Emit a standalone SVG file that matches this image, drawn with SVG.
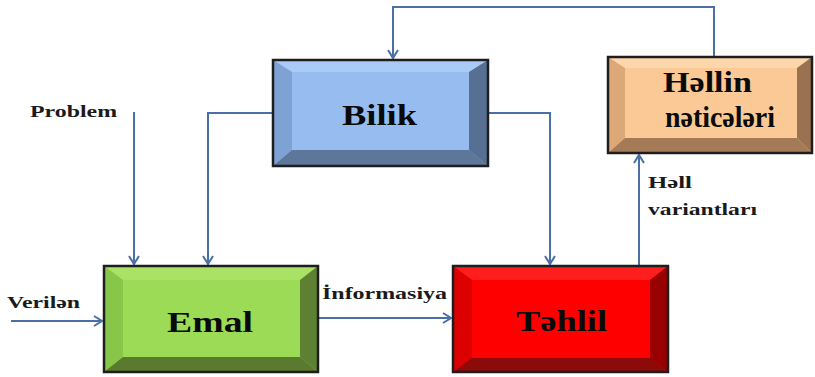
<svg xmlns="http://www.w3.org/2000/svg" width="815" height="377" viewBox="0 0 815 377">
  <defs>
    <style>
      .wire { fill: none; stroke: #4A6FA5; stroke-width: 2; }
      .edge { fill: none; stroke: #1E1E1E; stroke-width: 2.5; }
      .lbl { font-family: "Liberation Serif", "DejaVu Serif", serif; font-weight: bold; fill: #1A1A1A; }
      .small { font-size: 16px; }
      .big { font-size: 30px; fill: #0A0A0A; }
    </style>
    <marker id="arr" markerUnits="userSpaceOnUse" markerWidth="14" markerHeight="14" viewBox="0 0 14 14" refX="12" refY="7" orient="auto">
      <path d="M4,2 L12,7 L4,12" fill="none" stroke="#4A6FA5" stroke-width="2"/>
    </marker>
  </defs>

  <!-- connectors -->
  <g id="connectors">
    <polyline class="wire" points="714,57 714,7 393,7 393,58" marker-end="url(#arr)"/>
    <polyline class="wire" points="273,113 208,113 208,264" marker-end="url(#arr)"/>
    <polyline class="wire" points="488,113 550,113 550,264" marker-end="url(#arr)"/>
    <line class="wire" x1="134" y1="112" x2="134" y2="264" marker-end="url(#arr)"/>
    <line class="wire" x1="11" y1="321" x2="102" y2="321" marker-end="url(#arr)"/>
    <line class="wire" x1="318" y1="318" x2="451" y2="318" marker-end="url(#arr)"/>
    <line class="wire" x1="639" y1="266" x2="639" y2="155" marker-end="url(#arr)"/>
  </g>

  <!-- free labels -->
  <g id="labels">
    <text class="lbl small" x="30" y="117" textLength="87" lengthAdjust="spacingAndGlyphs">Problem</text>
    <text class="lbl small" x="7" y="308" textLength="73" lengthAdjust="spacingAndGlyphs">Verilən</text>
    <text class="lbl small" x="322" y="299" textLength="125" lengthAdjust="spacingAndGlyphs">İnformasiya</text>
    <text class="lbl small" x="648" y="188" textLength="44" lengthAdjust="spacingAndGlyphs">Həll</text>
    <text class="lbl small" x="648" y="215" textLength="109" lengthAdjust="spacingAndGlyphs">variantları</text>
  </g>

  <!-- Bilik -->
  <g id="bilik">
    <rect x="273" y="60" width="215" height="106" fill="#97BDF0"/>
    <polygon points="273,60 488,60 469,72 292,72" fill="#AACBF6"/>
    <polygon points="273,60 292,72 292,150 273,166" fill="#7EA2D4"/>
    <polygon points="488,60 488,166 469,150 469,72" fill="#566F92"/>
    <polygon points="273,166 292,150 469,150 488,166" fill="#5D7699"/>
    <rect class="edge" x="273" y="60" width="215" height="106"/>
    <text class="lbl big" x="342" y="125" textLength="75" lengthAdjust="spacingAndGlyphs">Bilik</text>
  </g>

  <!-- Həllin nəticələri -->
  <g id="hellin">
    <rect x="608" y="57" width="204" height="96" fill="#FAC995"/>
    <polygon points="608,57 812,57 797,68 625,68" fill="#FCD7AC"/>
    <polygon points="608,57 625,68 625,138 608,153" fill="#DDA877"/>
    <polygon points="812,57 812,153 797,138 797,68" fill="#9A7252"/>
    <polygon points="608,153 625,138 797,138 812,153" fill="#A57A56"/>
    <rect class="edge" x="608" y="57" width="204" height="96"/>
    <text class="lbl big" x="663" y="92" font-size="28" textLength="89" lengthAdjust="spacingAndGlyphs">Həllin</text>
    <text class="lbl big" x="665" y="127" font-size="28" textLength="110" lengthAdjust="spacingAndGlyphs">nəticələri</text>
  </g>

  <!-- Emal -->
  <g id="emal">
    <rect x="104" y="266" width="214" height="106" fill="#9BDB55"/>
    <polygon points="104,266 318,266 300,280 123,280" fill="#A9E264"/>
    <polygon points="104,266 123,280 123,357 104,372" fill="#88C649"/>
    <polygon points="318,266 318,372 300,357 300,280" fill="#5E8033"/>
    <polygon points="104,372 123,357 300,357 318,372" fill="#5A7A2F"/>
    <rect class="edge" x="104" y="266" width="214" height="106"/>
    <text class="lbl big" x="167" y="332" font-size="32" textLength="86" lengthAdjust="spacingAndGlyphs">Emal</text>
  </g>

  <!-- Təhlil -->
  <g id="tehlil">
    <rect x="453" y="266" width="215" height="106" fill="#FF0000"/>
    <polygon points="453,266 668,266 650,280 472,280" fill="#FF1E1E"/>
    <polygon points="453,266 472,280 472,358 453,372" fill="#DD0000"/>
    <polygon points="668,266 668,372 650,358 650,280" fill="#990000"/>
    <polygon points="453,372 472,358 650,358 668,372" fill="#8C0A0A"/>
    <rect class="edge" x="453" y="266" width="215" height="106"/>
    <text class="lbl big" x="516" y="331" font-size="32" textLength="91" lengthAdjust="spacingAndGlyphs">Təhlil</text>
  </g>
</svg>
